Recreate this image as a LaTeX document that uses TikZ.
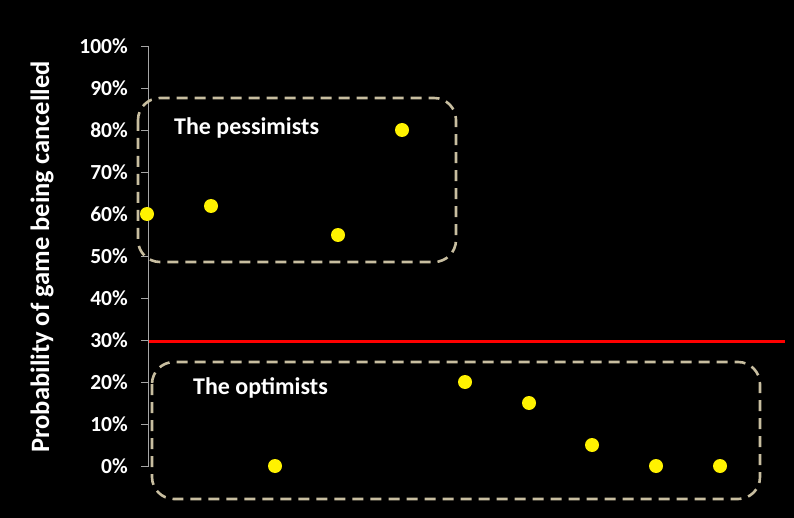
\documentclass[tikz,border=0pt]{standalone}
\usepackage{fontspec}
\setmainfont{Carlito}
\begin{document}
\begin{tikzpicture}[x=1pt,y=-1pt,
 lbl/.style={text=white,font=\bfseries\fontsize{21.5}{24}\selectfont,anchor=east,inner sep=0},
 pt/.style={circle,fill=yellow,minimum size=14pt,inner sep=0},
 grp/.style={draw={rgb,255:red,200;green,190;blue,160},line width=2.6pt,dash pattern=on 11pt off 7pt,rounded corners=22pt},
 ttl/.style={text=white,font=\bfseries\fontsize{24}{28}\selectfont,anchor=west,inner sep=0}]
\fill[black] (0,0) rectangle (794,518);
\useasboundingbox (0,0) rectangle (794,518);
\draw[gray!70,line width=0.8pt] (148.5,46) -- (148.5,466);
\foreach \i in {0,...,10}{
  \pgfmathsetmacro\yy{466-42*\i}
  \draw[gray!70,line width=0.8pt] (141,\yy) -- (148.5,\yy);
  \node[lbl] (t\i) at (128,\yy) {\pgfmathparse{int(10*\i)}\pgfmathresult\%};
}
\node[text=white,font=\bfseries\fontsize{26.5}{30}\selectfont,rotate=90] (ylab) at (42,257) {Probability of game being cancelled};
\draw[red,line width=3pt] (148.5,341) -- (785,341);
\draw[grp] (138,98) rectangle (456,262);
\draw[grp] (152,362) rectangle (760,499);
\node[ttl] (pess) at (174,128) {The pessimists};
\node[ttl] (opt) at (193,388) {The optimists};
\node[pt] (p1) at (147,214) {};
\node[pt] (p2) at (211,206) {};
\node[pt] (p3) at (275,466) {};
\node[pt] (p4) at (338,235) {};
\node[pt] (p5) at (402,130) {};
\node[pt] (p6) at (465,382) {};
\node[pt] (p7) at (529,403) {};
\node[pt] (p8) at (592,445) {};
\node[pt] (p9) at (656,466) {};
\node[pt] (p10) at (720,466) {};
\end{tikzpicture}
\end{document}
